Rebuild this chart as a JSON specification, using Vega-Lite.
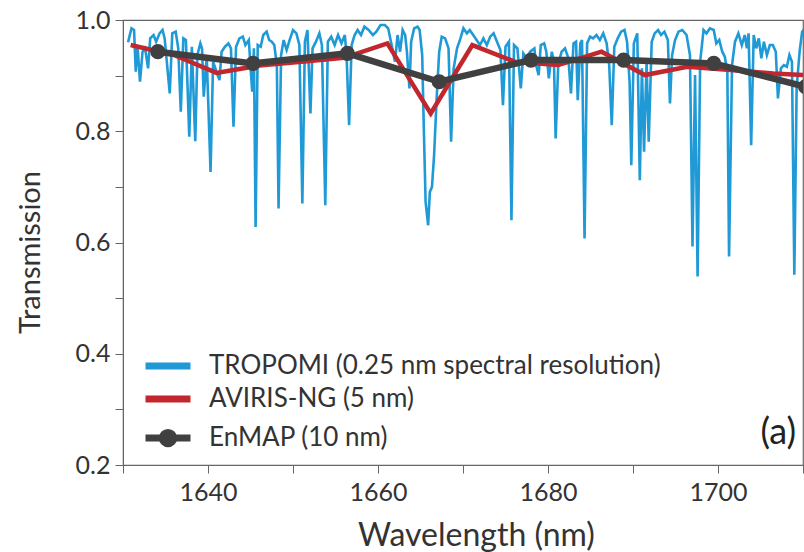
{
  "$schema": "https://vega.github.io/schema/vega-lite/v6.json",
  "width": 680,
  "height": 445,
  "autosize": {"type": "none"},
  "padding": {"left": 123, "top": 20, "right": 1, "bottom": 87},
  "config": {
    "font": "Lato",
    "view": {"stroke": "#666666", "strokeWidth": 1.2},
    "axis": {"grid": false, "domainColor": "#666666", "tickColor": "#666666", "labelColor": "#333333", "titleColor": "#333333", "titleFontWeight": "normal", "labelFont": "Lato", "titleFont": "Lato"}
  },
  "datasets": {
    "tropomi": [
      {"w": 1630.6, "t": 0.960}, {"w": 1630.8, "t": 0.973}, {"w": 1631.0, "t": 0.985}, {"w": 1631.3, "t": 0.982},
      {"w": 1631.5, "t": 0.907}, {"w": 1631.7, "t": 0.955}, {"w": 1632.0, "t": 0.889}, {"w": 1632.3, "t": 0.943},
      {"w": 1632.6, "t": 0.949}, {"w": 1632.95, "t": 0.913}, {"w": 1633.2, "t": 0.967}, {"w": 1633.6, "t": 0.973},
      {"w": 1633.9, "t": 0.961}, {"w": 1634.3, "t": 0.976}, {"w": 1634.65, "t": 0.982}, {"w": 1634.9, "t": 0.967},
      {"w": 1635.5, "t": 0.868}, {"w": 1635.8, "t": 0.976}, {"w": 1636.2, "t": 0.979}, {"w": 1636.5, "t": 0.949},
      {"w": 1636.8, "t": 0.835}, {"w": 1637.1, "t": 0.967}, {"w": 1637.4, "t": 0.964}, {"w": 1637.8, "t": 0.790},
      {"w": 1638.1, "t": 0.952}, {"w": 1638.5, "t": 0.782}, {"w": 1638.75, "t": 0.937}, {"w": 1639.1, "t": 0.958},
      {"w": 1639.3, "t": 0.949}, {"w": 1639.5, "t": 0.862}, {"w": 1639.85, "t": 0.934}, {"w": 1640.3, "t": 0.727},
      {"w": 1640.6, "t": 0.925}, {"w": 1641.0, "t": 0.907}, {"w": 1641.35, "t": 0.892}, {"w": 1641.6, "t": 0.943},
      {"w": 1642.0, "t": 0.952}, {"w": 1642.4, "t": 0.958}, {"w": 1642.7, "t": 0.949}, {"w": 1643.0, "t": 0.808},
      {"w": 1643.3, "t": 0.952}, {"w": 1643.7, "t": 0.967}, {"w": 1644.1, "t": 0.970}, {"w": 1644.4, "t": 0.955},
      {"w": 1644.8, "t": 0.964}, {"w": 1645.2, "t": 0.871}, {"w": 1645.4, "t": 0.949}, {"w": 1645.6, "t": 0.628},
      {"w": 1645.85, "t": 0.955}, {"w": 1646.2, "t": 0.952}, {"w": 1646.5, "t": 0.973}, {"w": 1646.9, "t": 0.979},
      {"w": 1647.2, "t": 0.964}, {"w": 1647.5, "t": 0.961}, {"w": 1647.8, "t": 0.955}, {"w": 1648.1, "t": 0.919},
      {"w": 1648.3, "t": 0.661}, {"w": 1648.6, "t": 0.937}, {"w": 1648.9, "t": 0.964}, {"w": 1649.25, "t": 0.946},
      {"w": 1649.6, "t": 0.964}, {"w": 1650.0, "t": 0.982}, {"w": 1650.4, "t": 0.976}, {"w": 1650.75, "t": 0.955},
      {"w": 1651.1, "t": 0.670}, {"w": 1651.4, "t": 0.961}, {"w": 1651.7, "t": 0.982}, {"w": 1652.05, "t": 0.832},
      {"w": 1652.3, "t": 0.949}, {"w": 1652.7, "t": 0.961}, {"w": 1653.1, "t": 0.976}, {"w": 1653.4, "t": 0.955},
      {"w": 1653.8, "t": 0.667}, {"w": 1654.1, "t": 0.961}, {"w": 1654.5, "t": 0.970}, {"w": 1654.9, "t": 0.955},
      {"w": 1655.3, "t": 0.973}, {"w": 1655.7, "t": 0.958}, {"w": 1656.1, "t": 0.973}, {"w": 1656.3, "t": 0.937},
      {"w": 1656.6, "t": 0.811}, {"w": 1656.9, "t": 0.955}, {"w": 1657.25, "t": 0.973}, {"w": 1657.6, "t": 0.982},
      {"w": 1658.0, "t": 0.973}, {"w": 1658.4, "t": 0.988}, {"w": 1658.9, "t": 0.982}, {"w": 1659.4, "t": 0.973},
      {"w": 1659.8, "t": 0.979}, {"w": 1660.3, "t": 0.991}, {"w": 1660.8, "t": 0.991}, {"w": 1661.2, "t": 0.985},
      {"w": 1661.6, "t": 0.955}, {"w": 1662.0, "t": 0.925}, {"w": 1662.3, "t": 0.973}, {"w": 1662.6, "t": 0.943},
      {"w": 1662.9, "t": 0.982}, {"w": 1663.2, "t": 0.973}, {"w": 1663.4, "t": 0.943}, {"w": 1663.7, "t": 0.877},
      {"w": 1663.9, "t": 0.961}, {"w": 1664.25, "t": 0.985}, {"w": 1664.65, "t": 0.988}, {"w": 1664.9, "t": 0.982},
      {"w": 1665.2, "t": 0.937}, {"w": 1665.4, "t": 0.799}, {"w": 1665.6, "t": 0.673}, {"w": 1665.9, "t": 0.631},
      {"w": 1666.1, "t": 0.691}, {"w": 1666.35, "t": 0.700}, {"w": 1666.6, "t": 0.757}, {"w": 1666.9, "t": 0.859},
      {"w": 1667.2, "t": 0.943}, {"w": 1667.5, "t": 0.970}, {"w": 1667.9, "t": 0.967}, {"w": 1668.3, "t": 0.949},
      {"w": 1668.6, "t": 0.781}, {"w": 1668.9, "t": 0.913}, {"w": 1669.3, "t": 0.949}, {"w": 1669.7, "t": 0.967},
      {"w": 1670.05, "t": 0.985}, {"w": 1670.45, "t": 0.976}, {"w": 1670.8, "t": 0.982}, {"w": 1671.2, "t": 0.973},
      {"w": 1671.6, "t": 0.964}, {"w": 1672.0, "t": 0.955}, {"w": 1672.4, "t": 0.967}, {"w": 1672.8, "t": 0.955},
      {"w": 1673.2, "t": 0.970}, {"w": 1673.6, "t": 0.976}, {"w": 1674.0, "t": 0.961}, {"w": 1674.4, "t": 0.946},
      {"w": 1674.7, "t": 0.847}, {"w": 1675.0, "t": 0.952}, {"w": 1675.4, "t": 0.961}, {"w": 1675.7, "t": 0.640},
      {"w": 1676.0, "t": 0.955}, {"w": 1676.4, "t": 0.949}, {"w": 1676.8, "t": 0.877}, {"w": 1677.1, "t": 0.940},
      {"w": 1677.5, "t": 0.931}, {"w": 1677.9, "t": 0.943}, {"w": 1678.4, "t": 0.949}, {"w": 1678.6, "t": 0.919},
      {"w": 1678.9, "t": 0.901}, {"w": 1679.15, "t": 0.955}, {"w": 1679.55, "t": 0.958}, {"w": 1679.8, "t": 0.943},
      {"w": 1680.1, "t": 0.895}, {"w": 1680.45, "t": 0.943}, {"w": 1680.7, "t": 0.925}, {"w": 1680.9, "t": 0.787},
      {"w": 1681.2, "t": 0.919}, {"w": 1681.6, "t": 0.943}, {"w": 1682.0, "t": 0.949}, {"w": 1682.4, "t": 0.931},
      {"w": 1682.7, "t": 0.868}, {"w": 1683.0, "t": 0.958}, {"w": 1683.3, "t": 0.961}, {"w": 1683.5, "t": 0.856},
      {"w": 1683.8, "t": 0.958}, {"w": 1684.0, "t": 0.964}, {"w": 1684.3, "t": 0.607}, {"w": 1684.6, "t": 0.958},
      {"w": 1684.95, "t": 0.970}, {"w": 1685.3, "t": 0.967}, {"w": 1685.7, "t": 0.973}, {"w": 1686.1, "t": 0.964},
      {"w": 1686.5, "t": 0.976}, {"w": 1686.9, "t": 0.958}, {"w": 1687.2, "t": 0.919}, {"w": 1687.5, "t": 0.811},
      {"w": 1687.8, "t": 0.952}, {"w": 1688.2, "t": 0.967}, {"w": 1688.6, "t": 0.979}, {"w": 1689.0, "t": 0.982},
      {"w": 1689.3, "t": 0.961}, {"w": 1689.6, "t": 0.889}, {"w": 1689.8, "t": 0.739}, {"w": 1690.1, "t": 0.958},
      {"w": 1690.5, "t": 0.976}, {"w": 1690.8, "t": 0.712}, {"w": 1691.05, "t": 0.913}, {"w": 1691.3, "t": 0.763},
      {"w": 1691.6, "t": 0.925}, {"w": 1691.85, "t": 0.781}, {"w": 1692.2, "t": 0.961}, {"w": 1692.55, "t": 0.976},
      {"w": 1692.95, "t": 0.982}, {"w": 1693.3, "t": 0.973}, {"w": 1693.7, "t": 0.979}, {"w": 1694.1, "t": 0.964},
      {"w": 1694.35, "t": 0.850}, {"w": 1694.6, "t": 0.937}, {"w": 1694.95, "t": 0.964}, {"w": 1695.35, "t": 0.979},
      {"w": 1695.8, "t": 0.982}, {"w": 1696.3, "t": 0.973}, {"w": 1696.7, "t": 0.937}, {"w": 1697.0, "t": 0.593},
      {"w": 1697.3, "t": 0.901}, {"w": 1697.6, "t": 0.539}, {"w": 1697.9, "t": 0.925}, {"w": 1698.3, "t": 0.982},
      {"w": 1698.65, "t": 0.976}, {"w": 1699.05, "t": 0.985}, {"w": 1699.5, "t": 0.982}, {"w": 1699.8, "t": 0.958},
      {"w": 1700.15, "t": 0.964}, {"w": 1700.5, "t": 0.943}, {"w": 1700.8, "t": 0.934}, {"w": 1701.1, "t": 0.907},
      {"w": 1701.3, "t": 0.575}, {"w": 1701.65, "t": 0.919}, {"w": 1702.0, "t": 0.961}, {"w": 1702.4, "t": 0.976},
      {"w": 1702.8, "t": 0.955}, {"w": 1703.15, "t": 0.973}, {"w": 1703.4, "t": 0.949}, {"w": 1703.6, "t": 0.976},
      {"w": 1703.9, "t": 0.775}, {"w": 1704.2, "t": 0.973}, {"w": 1704.5, "t": 0.949}, {"w": 1704.8, "t": 0.967},
      {"w": 1705.1, "t": 0.931}, {"w": 1705.4, "t": 0.961}, {"w": 1705.75, "t": 0.937}, {"w": 1706.1, "t": 0.955},
      {"w": 1706.45, "t": 0.955}, {"w": 1706.8, "t": 0.943}, {"w": 1707.05, "t": 0.859}, {"w": 1707.4, "t": 0.913},
      {"w": 1707.75, "t": 0.919}, {"w": 1708.1, "t": 0.916}, {"w": 1708.4, "t": 0.937}, {"w": 1708.7, "t": 0.925},
      {"w": 1708.98, "t": 0.542}, {"w": 1709.25, "t": 0.877}, {"w": 1709.6, "t": 0.943}, {"w": 1709.9, "t": 0.979},
      {"w": 1710.2, "t": 0.985}
    ],
    "aviris": [
      {"w": 1630.9, "t": 0.955}, {"w": 1636.0, "t": 0.937}, {"w": 1641.0, "t": 0.905}, {"w": 1646.0, "t": 0.918},
      {"w": 1651.0, "t": 0.925}, {"w": 1656.0, "t": 0.932}, {"w": 1661.1, "t": 0.958}, {"w": 1666.2, "t": 0.832},
      {"w": 1671.1, "t": 0.955}, {"w": 1676.1, "t": 0.925}, {"w": 1681.2, "t": 0.919}, {"w": 1686.3, "t": 0.943},
      {"w": 1691.4, "t": 0.901}, {"w": 1696.4, "t": 0.916}, {"w": 1701.5, "t": 0.910}, {"w": 1706.5, "t": 0.904},
      {"w": 1711.6, "t": 0.900}
    ],
    "enmap": [
      {"w": 1634.1, "t": 0.943}, {"w": 1645.3, "t": 0.922}, {"w": 1656.4, "t": 0.940}, {"w": 1667.2, "t": 0.889},
      {"w": 1678.0, "t": 0.928}, {"w": 1688.9, "t": 0.928}, {"w": 1699.5, "t": 0.922}, {"w": 1710.3, "t": 0.880}
    ],
    "label": [{"w": 1709.2, "t": 0.2575, "txt": "(a)"}]
  },
  "layer": [
    {
      "data": {"name": "tropomi"},
      "mark": {"type": "line", "strokeWidth": 2.6, "clip": true},
      "encoding": {
        "x": {"field": "w", "type": "quantitative", "scale": {"domain": [1630, 1710], "nice": false, "zero": false},
          "axis": {"values": [1630, 1640, 1650, 1660, 1670, 1680, 1690, 1700, 1710],
            "labelExpr": "(datum.value == 1640 || datum.value == 1660 || datum.value == 1680 || datum.value == 1700) ? format(datum.value, 'd') : ''",
            "tickSize": 8, "labelFontSize": 25, "labelPadding": 7, "title": "Wavelength (nm)", "titleFontSize": 32,
            "titleX": 353, "titleY": 70, "titleBaseline": "middle", "labelFlush": false, "labelOverlap": false}},
        "y": {"field": "t", "type": "quantitative", "scale": {"domain": [0.2, 1.0], "nice": false, "zero": false},
          "axis": {"values": [0.2, 0.3, 0.4, 0.5, 0.6, 0.7, 0.8, 0.9, 1.0],
            "labelExpr": "indexof(['0.2','0.4','0.6','0.8','1.0'], format(datum.value, '.1f')) >= 0 ? format(datum.value, '.1f') : ''",
            "tickSize": 8, "labelFontSize": 25, "labelPadding": 5, "title": "Transmission", "titleFontSize": 29,
            "titleX": -93, "titleY": 232, "titleAngle": -90, "titleBaseline": "middle", "titleAlign": "center", "labelFlush": false, "labelOverlap": false}},
        "color": {"datum": "TROPOMI (0.25 nm spectral resolution)", "type": "nominal",
          "scale": {"domain": ["TROPOMI (0.25 nm spectral resolution)", "AVIRIS-NG (5 nm)", "EnMAP (10 nm)"], "range": ["#1f9ad6", "#c1272d", "#404040"]},
          "legend": {"orient": "none", "legendX": 32, "legendY": 333, "title": null, "padding": 0,
            "labelFontSize": 26, "labelColor": "#333333", "labelOffset": 28, "labelLimit": 0, "rowPadding": 5, "symbolSize": 225,
            "encode": {"symbols": {"update": {
              "shape": {"signal": "datum.value == 'EnMAP (10 nm)' ? 'M-3,0H3M0.75,0A0.75,0.75,0,1,1,-0.75,0A0.75,0.75,0,1,1,0.75,0Z' : 'M-3,0H3'"},
              "fill": {"scale": "color", "field": "value"},
              "stroke": {"scale": "color", "field": "value"},
              "strokeWidth": {"value": 7},
              "opacity": {"value": 1},
              "fillOpacity": {"value": 1},
              "strokeOpacity": {"value": 1}
            }}}}}
      }
    },
    {
      "data": {"name": "aviris"},
      "mark": {"type": "line", "strokeWidth": 4.5, "clip": true},
      "encoding": {
        "x": {"field": "w", "type": "quantitative"},
        "y": {"field": "t", "type": "quantitative"},
        "color": {"datum": "AVIRIS-NG (5 nm)", "type": "nominal"}
      }
    },
    {
      "data": {"name": "enmap"},
      "mark": {"type": "line", "strokeWidth": 6.5, "clip": true},
      "encoding": {
        "x": {"field": "w", "type": "quantitative"},
        "y": {"field": "t", "type": "quantitative"},
        "color": {"datum": "EnMAP (10 nm)", "type": "nominal"}
      }
    },
    {
      "data": {"name": "enmap"},
      "mark": {"type": "point", "filled": true, "size": 230, "opacity": 1, "clip": true},
      "encoding": {
        "x": {"field": "w", "type": "quantitative"},
        "y": {"field": "t", "type": "quantitative"},
        "color": {"datum": "EnMAP (10 nm)", "type": "nominal"}
      }
    },
    {
      "data": {"name": "label"},
      "mark": {"type": "text", "align": "right", "baseline": "middle", "fontSize": 36, "color": "#222222", "font": "Lato"},
      "encoding": {
        "x": {"field": "w", "type": "quantitative"},
        "y": {"field": "t", "type": "quantitative"},
        "text": {"field": "txt"}
      }
    }
  ]
}
